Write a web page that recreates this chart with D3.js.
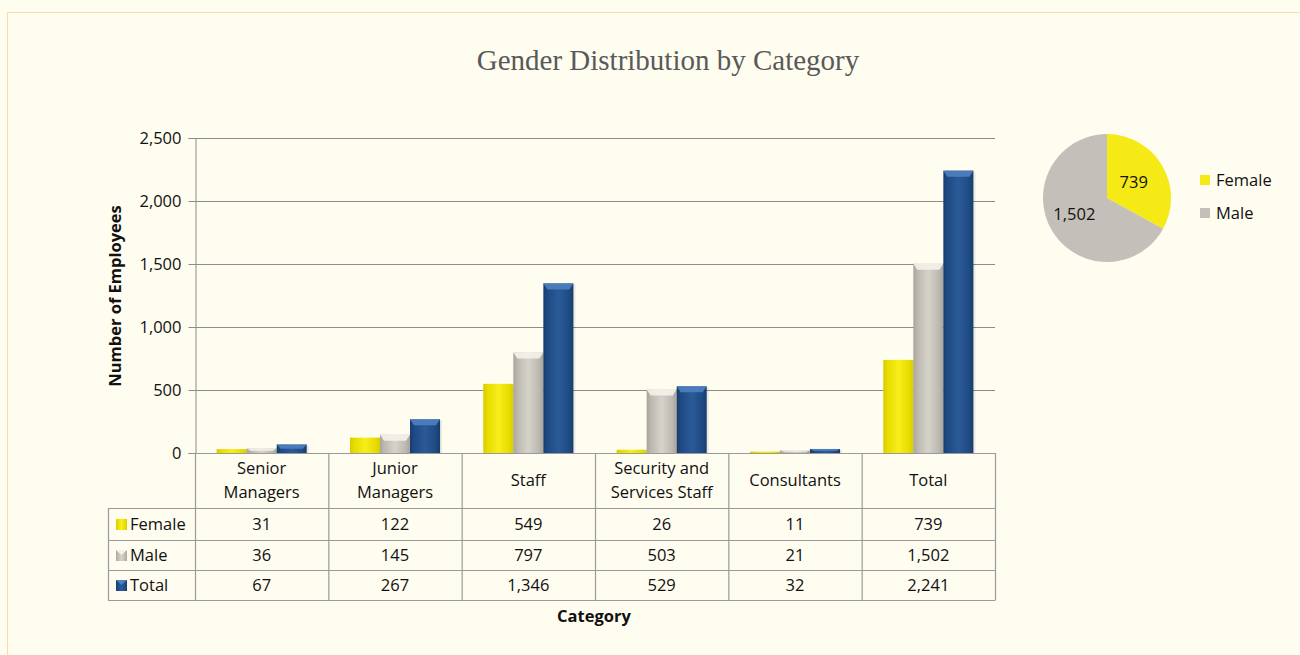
<!DOCTYPE html>
<html><head><meta charset="utf-8">
<script src="https://cdn.jsdelivr.net/npm/d3@7"></script>
<style>
html,body{margin:0;padding:0;background:#fff;}
svg{display:block;}
</style>
</head><body>
<svg id="chart" width="1300" height="655"></svg>
<script>
const categories = [["Senior","Managers"],["Junior","Managers"],["Staff"],["Security and","Services Staff"],["Consultants"],["Total"]];
const seriesNames = ["Female","Male","Total"];
const female = [31,122,549,26,11,739];
const male = [36,145,797,503,21,1502];
const total = [67,267,1346,529,32,2241];
const yTicks = [0,500,1000,1500,2000,2500];
const pieLabels = ["Female","Male"];
const pieValues = [739,1502];

(function(){
const seriesValues = [female, male, total];
const colors = {Female:["#d8cc00","#f7ee1a","#e8dc00"], Male:["#a8a59d","#d6d3cb","#bdb9b0"], Total:["#173c6e","#2a5a98","#1f4b84"]};
const capColors = {Female:"#f5ec55", Male:"#f4f2ea", Total:"#4f7fbf"};
const fmt = d3.format(",");
const FONT = "'Open Sans', sans-serif";
const FS = 16.5;

const svg = d3.select("#chart");
svg.append("rect").attr("x",0).attr("y",0).attr("width",1300).attr("height",655).attr("fill","#fefdf0");
svg.append("rect").attr("x",7.5).attr("y",12.5).attr("width",1300).attr("height",660).attr("fill","#fffdf0").attr("stroke","#f5dfa3").attr("stroke-width",1);

const defs = svg.append("defs");
seriesNames.forEach(s=>{
  const g = defs.append("linearGradient").attr("id","g"+s).attr("x1","0").attr("x2","1").attr("y1","0").attr("y2","0");
  g.append("stop").attr("offset","0").attr("stop-color",colors[s][0]);
  g.append("stop").attr("offset","0.15").attr("stop-color",colors[s][2]);
  g.append("stop").attr("offset","0.5").attr("stop-color",colors[s][1]);
  g.append("stop").attr("offset","0.85").attr("stop-color",colors[s][2]);
  g.append("stop").attr("offset","1").attr("stop-color",colors[s][0]);
});

svg.append("text").attr("x",668).attr("y",70).attr("text-anchor","middle")
  .attr("font-family","'Liberation Serif', serif").attr("font-size",29).attr("fill","#595959")
  .text("Gender Distribution by Category");

const pLeft=195, pRight=995, pTop=138, pBottom=453;
const x = d3.scaleBand().domain(d3.range(categories.length)).range([pLeft,pRight]).paddingInner(0).paddingOuter(0);
const y = d3.scaleLinear().domain([0,2500]).range([pBottom,pTop]);
const xs = d3.scaleBand().domain(seriesNames).range([0,x.bandwidth()]).paddingOuter(0.72).paddingInner(0);

svg.append("g").selectAll("line").data(yTicks.filter(d=>d>0)).join("line")
  .attr("x1",pLeft).attr("x2",pRight).attr("y1",d=>Math.round(y(d))+0.5).attr("y2",d=>Math.round(y(d))+0.5)
  .attr("stroke","#8c8c8c").attr("stroke-width",1.2);

const yAxis = d3.axisLeft(y).tickValues(yTicks).tickFormat(fmt).tickSize(7).tickPadding(7);
const ya = svg.append("g").attr("transform",`translate(${pLeft+0.5},0)`).call(yAxis);
ya.select(".domain").attr("stroke","#8c8c8c");
ya.selectAll(".tick line").attr("stroke","#8c8c8c");
ya.selectAll("text").attr("font-family",FONT).attr("font-size",FS).attr("fill","#111");

svg.append("text").attr("transform","translate(121,296) rotate(-90)").attr("text-anchor","middle")
  .attr("font-family",FONT).attr("font-size",16.5).attr("font-weight","bold").attr("fill","#111").text("Number of Employees");

const bars = svg.append("g");
seriesNames.forEach((s,si)=>{
  const vals = seriesValues[si];
  const g = bars.append("g");
  g.selectAll("rect.shadow").data(vals).join("rect").attr("class","shadow")
    .attr("x",(d,i)=>x(i)+xs(s)+2).attr("y",d=>y(d)+1).attr("width",xs.bandwidth()).attr("height",d=>pBottom-y(d))
    .attr("fill","#000").attr("opacity",0.08);
  g.selectAll("rect.bar").data(vals).join("rect").attr("class","bar")
    .attr("x",(d,i)=>x(i)+xs(s)).attr("y",d=>y(d)).attr("width",xs.bandwidth()).attr("height",d=>pBottom-y(d))
    .attr("fill","url(#g"+s+")");
  g.selectAll("path.cap").data(vals).join("path").attr("class","cap")
    .attr("d",(d,i)=>{
      const x0=x(i)+xs(s), w=xs.bandwidth(), y0=y(d), h=Math.min(6,(pBottom-y(d))/2);
      return `M${x0},${y0}L${x0+w},${y0}L${x0+w-4},${y0+h}L${x0+4},${y0+h}Z`;
    })
    .attr("fill",capColors[s]).attr("opacity",s==="Female"?0:0.9);
});

const rowTop=[453,508,540,570,600];
const tableLeft=108;
const tg = svg.append("g").attr("stroke","#9a9a9a").attr("stroke-width",1.2);
x.domain().forEach(i=>{
  tg.append("line").attr("x1",x(i)+0.5).attr("x2",x(i)+0.5).attr("y1",pBottom).attr("y2",600);
});
tg.append("line").attr("x1",pRight+0.5).attr("x2",pRight+0.5).attr("y1",pBottom).attr("y2",600);
tg.append("line").attr("x1",tableLeft+0.5).attr("x2",tableLeft+0.5).attr("y1",508).attr("y2",600);
tg.append("line").attr("x1",pLeft).attr("x2",pRight).attr("y1",pBottom+0.5).attr("y2",pBottom+0.5);
[508,540,570,600].forEach(r=>{
  tg.append("line").attr("x1",tableLeft).attr("x2",pRight+0.5).attr("y1",r+0.5).attr("y2",r+0.5);
});

const cl = svg.append("g").attr("font-family",FONT).attr("font-size",FS).attr("fill","#111").attr("text-anchor","middle");
categories.forEach((c,i)=>{
  const cx = x(i)+x.bandwidth()/2;
  const n=c.length;
  c.forEach((line,li)=>{
    cl.append("text").attr("x",cx).attr("y",(n===1?486:474+li*24)).text(line);
  });
});

const tv = svg.append("g").attr("font-family",FONT).attr("font-size",FS).attr("fill","#111");
seriesNames.forEach((s,si)=>{
  const cy = (rowTop[si+1]+rowTop[si+2])/2+6;
  seriesValues[si].forEach((v,i)=>{
    tv.append("text").attr("x",x(i)+x.bandwidth()/2).attr("y",cy).attr("text-anchor","middle").text(fmt(v));
  });
  const ky = cy-11;
  tv.append("rect").attr("x",116).attr("y",ky).attr("width",11).attr("height",11).attr("fill","url(#g"+s+")");
  if(s!=="Female") tv.append("path").attr("d",`M116,${ky}L127,${ky}L121.5,${ky+5}Z`).attr("fill",capColors[s]);
  tv.append("text").attr("x",130).attr("y",cy).text(s);
});

svg.append("text").attr("x",594).attr("y",622).attr("text-anchor","middle")
  .attr("font-family",FONT).attr("font-size",16.5).attr("font-weight","bold").attr("fill","#111").text("Category");

const pieColors = ["#f5e916","#c4c0b9"];
const pie = d3.pie().sort(null).value(d=>d)(pieValues);
const arc = d3.arc().innerRadius(0).outerRadius(64);
const pg = svg.append("g").attr("transform","translate(1107,198)");
pg.selectAll("path").data(pie).join("path").attr("d",arc).attr("fill",(d,i)=>pieColors[i]);
const labelArc = d3.arc().innerRadius(38).outerRadius(38);
pg.selectAll("text").data(pie).join("text")
  .attr("transform",(d,i)=>{const c=labelArc.centroid(d); return `translate(${c[0]+(i===0?-6:0)},${c[1]+(i===0?4:-3)})`;})
  .attr("text-anchor","middle").attr("dy","0.35em")
  .attr("font-family",FONT).attr("font-size",FS).attr("fill","#111").text(d=>fmt(d.data));

const lg = svg.append("g").attr("font-family",FONT).attr("font-size",FS).attr("fill","#111");
pieLabels.forEach((l,i)=>{
  lg.append("rect").attr("x",1200).attr("y",175+i*33).attr("width",10).attr("height",10).attr("fill",pieColors[i]);
  lg.append("text").attr("x",1216).attr("y",186+i*33).text(l);
});
})();
</script>
</body></html>
